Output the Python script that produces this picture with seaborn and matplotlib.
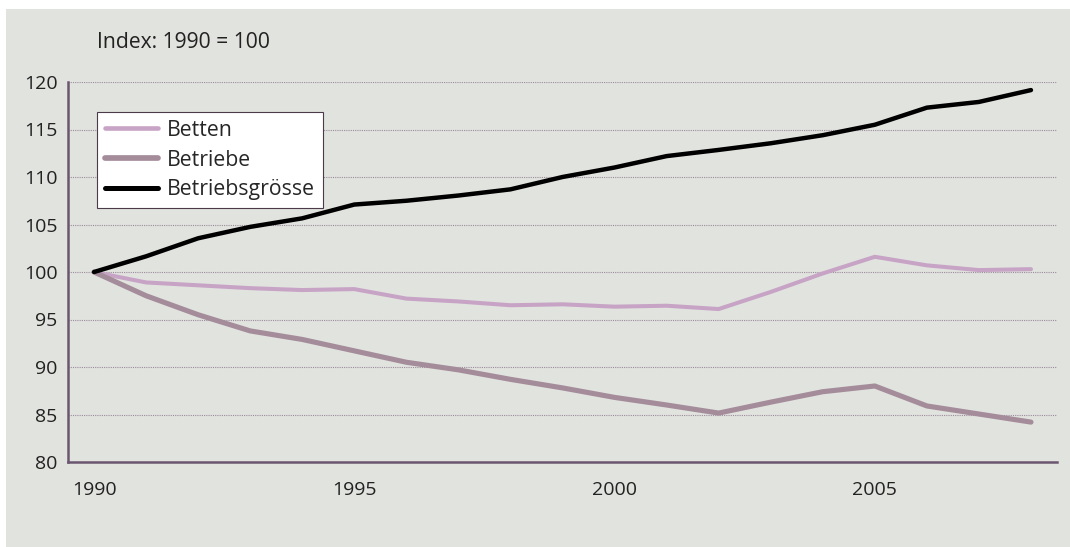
import numpy as np
import pandas as pd
import matplotlib
matplotlib.use("Agg")
import matplotlib.pyplot as plt
import seaborn as sns

# Data (index 1990 = 100)
years = list(range(1990, 2009))
betten = [100.0, 98.9, 98.6, 98.3, 98.1, 98.2, 97.2, 96.9, 96.5, 96.6,
          96.35, 96.45, 96.1, 97.9, 99.85, 101.6, 100.7, 100.2, 100.3]
betriebe = [100.0, 97.5, 95.5, 93.8, 92.9, 91.7, 90.5, 89.7, 88.7, 87.8,
            86.8, 86.0, 85.15, 86.3, 87.4, 88.0, 85.9, 85.05, 84.2]
groesse = [100.0, 101.65, 103.55, 104.75, 105.65, 107.1, 107.5, 108.05, 108.7, 110.0,
           111.0, 112.2, 112.85, 113.55, 114.4, 115.5, 117.3, 117.9, 119.15]
series_names = ["Betten", "Betriebe", "Betriebsgrösse"]
label_years = [1990, 1995, 2000, 2005]
y_ticks = [80, 85, 90, 95, 100, 105, 110, 115, 120]

df = pd.DataFrame({
    "Jahr": years * 3,
    "Wert": betten + betriebe + groesse,
    "Serie": [s for s in series_names for _ in years],
})

sns.set_style("white")
plt.rcParams["font.family"] = ["Open Sans", "DejaVu Sans"]

bg = "#e1e3de"
axis_col = "#6b5670"
text_col = "#222222"
palette = {"Betten": "#c7a3c6", "Betriebe": "#a48c9b", "Betriebsgrösse": "#000000"}
widths = {"Betten": 2.9, "Betriebe": 3.7, "Betriebsgrösse": 3.2}

fig = plt.figure(figsize=(10.7, 5.47), dpi=100, facecolor="white")
# grey panel behind everything (white strip on top and left)
bg_ax = fig.add_axes([6 / 1070, 0, 1 - 6 / 1070, 1 - 9 / 547], zorder=-5)
bg_ax.set_facecolor(bg)
bg_ax.set_xticks([])
bg_ax.set_yticks([])
for s in bg_ax.spines.values():
    s.set_visible(False)

ax = fig.add_axes([68 / 1070, 1 - 462 / 547, 989 / 1070, 380 / 547])
ax.set_facecolor("none")

sns.lineplot(data=df, x="Jahr", y="Wert", hue="Serie", hue_order=series_names,
             palette=palette, ax=ax, legend=False)
for line, name in zip(ax.get_lines(), series_names):
    line.set_linewidth(widths[name])
    line.set_solid_capstyle("round")
    line.set_solid_joinstyle("round")
    line.set_zorder(3)

ax.set_xlim(years[0] - 0.5, years[-1] + 0.5)
ax.set_ylim(80, 120)
ax.set_yticks(y_ticks)
ax.set_yticklabels([str(v) for v in y_ticks])
ax.yaxis.grid(True, linestyle=(0, (1, 1)), color="#9c8c9e", linewidth=0.8)
ax.set_axisbelow(True)

# category-style x axis: tick marks between years, labels centred on years
ax.set_xticks(np.arange(years[0] - 0.5, years[-1] + 1, 1))
ax.set_xticklabels([])
ax.set_xticks(label_years, minor=True)
ax.set_xticklabels([str(y) for y in label_years], minor=True)
ax.tick_params(axis="x", which="major", direction="out", length=4.5, width=1.5, color=axis_col)
ax.tick_params(axis="x", which="minor", length=0, pad=14, labelsize=14, labelcolor=text_col)
ax.tick_params(axis="y", direction="out", length=4.5, width=1.5, color=axis_col,
               labelsize=14, labelcolor=text_col, pad=3)

for side in ["top", "right"]:
    ax.spines[side].set_visible(False)
for side in ["left", "bottom"]:
    ax.spines[side].set_color(axis_col)
    ax.spines[side].set_linewidth(1.8)
ax.set_xlabel("")
ax.set_ylabel("")

handles = [plt.Line2D([], [], color=palette[n], linewidth=widths[n] + 0.4,
                      solid_capstyle="round") for n in series_names]
leg = ax.legend(handles, series_names, loc="upper left",
                bbox_to_anchor=(29 / 989, (462 - 112) / 380),
                fontsize=15.3, frameon=True, fancybox=False, framealpha=1,
                edgecolor="#4a3a4a", handlelength=2.5, handletextpad=0.45,
                labelspacing=0.42, borderpad=0.36, borderaxespad=0)
leg.get_frame().set_linewidth(0.8)
leg.get_frame().set_facecolor("white")

fig.text(97 / 1070, 1 - 42 / 547, "Index: 1990 = 100", fontsize=15.2,
         color=text_col, va="center", ha="left")

fig.savefig("out.png", dpi=100, facecolor="white")
